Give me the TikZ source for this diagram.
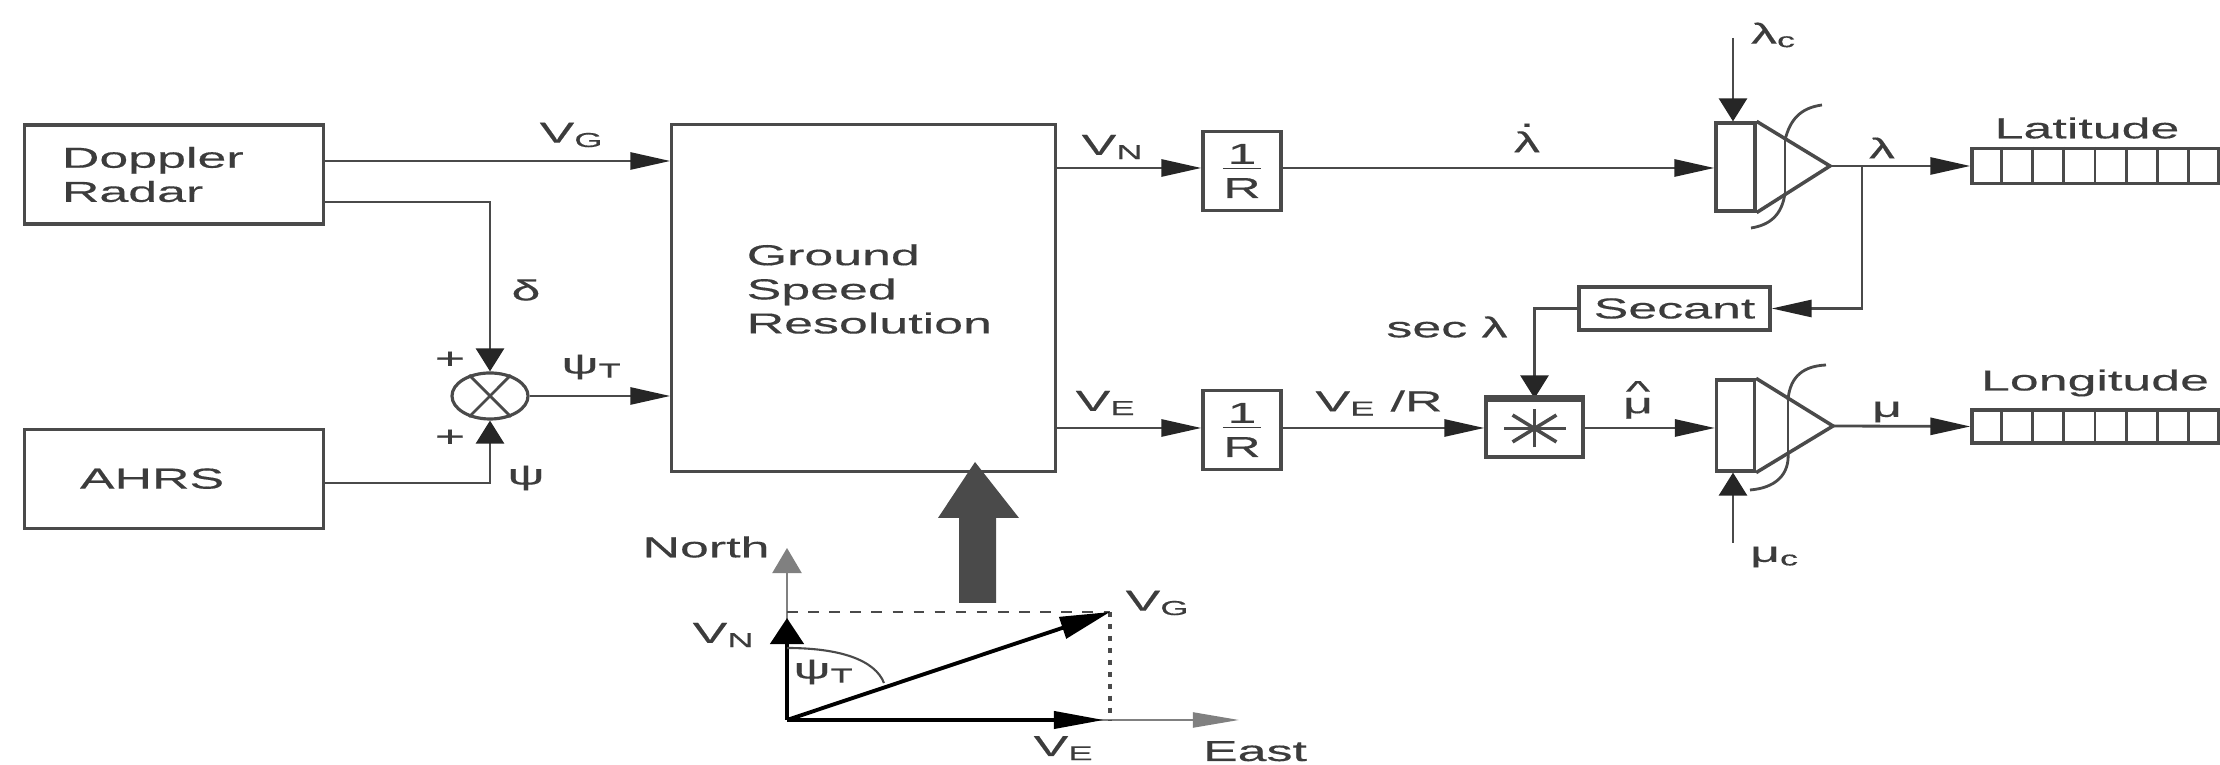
\documentclass[tikz,border=0pt]{standalone}
\usepackage{fontspec}
\setmainfont[FakeStretch=1.8,FakeBold=0.4]{Liberation Sans}
\usepackage{xcolor}
\usepackage{tikz}
\usetikzlibrary{shapes.geometric, arrows.meta, calc}
\definecolor{inkgray}{HTML}{4A4A4A}
\definecolor{textgray}{HTML}{3C3C3C}
\tikzstyle{block} = [rectangle, draw=inkgray, line width=0.9pt, inner sep=0pt, text=textgray, font=\fontsize{8.2}{9.7}\selectfont]
\tikzstyle{lbl} = [inner sep=0pt, text=textgray, font=\fontsize{8.2}{9.7}\selectfont]
\tikzstyle{conn} = [draw=inkgray, line width=0.8pt]
\tikzstyle{arrow} = [conn, -{Triangle[length=0.4cm, width=0.17cm, color=black!85]}]
\tikzstyle{arrowv} = [conn, -{Triangle[length=0.23cm, width=0.28cm, color=black!85]}]
\begin{document}
\begin{tikzpicture}[x=0.01cm, y=-0.01cm]
        \useasboundingbox (0,0) rectangle (2220,765);
        % left side
        \node (doppler) [block, minimum height=0.99cm, inner xsep=0.37cm, text width=2.24cm, align=left] at (174,174.5) {Doppler\\Radar};
        \node (ahrs) [block, below of=doppler, node distance=3.04cm, minimum height=0.99cm, inner xsep=0.55cm, text width=1.88cm, align=left] {AHRS};
        \node (sumpt) [ellipse, draw=inkgray, line width=0.9pt, inner sep=0pt, minimum width=0.76cm, minimum height=0.46cm] at (490,396) {};
        \node (main) [block, minimum width=3.83cm, minimum height=3.46cm] at (863.5,298) {};
        \node (maintxt) [lbl, anchor=west, align=left] at (746,289) {Ground\\Speed\\Resolution};
        \draw [conn] (sumpt.45) -- (sumpt.225);
        \draw [conn] (sumpt.135) -- (sumpt.-45);

        % levels where the lines leave the boxes
        \coordinate (vglevel) at (0,161);
        \coordinate (dltlevel) at (0,202);
        \coordinate (ahrslevel) at (0,483);
        \coordinate (vnlevel) at (0,168);
        \coordinate (velevel) at (0,428);
        \coordinate (dltcorner) at (sumpt.north |- dltlevel);
        \coordinate (ahrscorner) at (sumpt.south |- ahrslevel);

        \draw [arrow] (doppler.east |- vglevel) -- (main.west |- vglevel);
        \draw [arrowv] (doppler.east |- dltlevel) -- (dltcorner) -- (sumpt.north);
        \draw [arrowv] (ahrs.east |- ahrslevel) -- (ahrscorner) -- (sumpt.south);
        \draw [arrow] (sumpt.east) -- (main.west |- sumpt.east);

        \node (vglbl) [lbl] at (572,135) {V\textsubscript{G}};
        \node (dltlbl) [lbl] at (526,290) {δ};
        \node (psilbl) [lbl] at (526,478) {ψ};
        \node (psitlbl) [lbl] at (592,367) {ψ\textsubscript{T}};
        \node (plusa) [lbl] at (450,360) {+};
        \node (plusb) [lbl] at (450,438) {+};

        % upper channel
        \node (overn) [block, minimum width=0.78cm, minimum height=0.79cm, align=center] at (1242,171) {\underline{\,1\,}\\R};
        \node (intlat) [rectangle, draw=inkgray, line width=0.9pt, minimum width=0.39cm, minimum height=0.88cm, inner sep=0pt] at (1735.5,167) {};
        \node (latreg) [rectangle, draw=inkgray, line width=0.9pt, minimum width=2.46cm, minimum height=0.35cm, inner sep=0pt] at (2095,166) {};
        \coordinate (lattip) at (1830,166);
        \coordinate (latbranch) at (1862,166);
        \coordinate (latinit) at (1733,38);
        \draw [conn, line width=1pt] (intlat.north east) -- (lattip) -- (intlat.south east);
        \draw [conn] (1785,140) -- (1785,193);
        \draw [conn] (1822,105) .. controls (1800,108) and (1790,120) .. (1785,140);
        \draw [conn] (1785,193) .. controls (1782,215) and (1770,225) .. (1751,228);
        \draw [arrow] (main.east |- vnlevel) -- (overn.west |- vnlevel);
        \draw [arrow] (overn.east |- vnlevel) -- (intlat.west |- vnlevel);
        \draw [arrow] (lattip) -- (latreg.west);
        \draw [arrowv] (latinit) -- (latinit |- intlat.north);

        \node (vnlbl) [lbl] at (1113,147) {V\textsubscript{N}};
        \node (ldotlbl) [lbl] at (1527,138) {\ooalign{\hfil\raisebox{0.88em}{.}\hfil\cr λ\cr}};
        \node (lclbl) [lbl] at (1774,35) {λ\textsubscript{c}};
        \node (llbl) [lbl] at (1882,148) {λ};
        \node (latlbl) [lbl] at (2087,128) {Latitude};

        % secant feedback
        \node (secant) [block, minimum width=1.91cm, minimum height=0.43cm] at (1674.5,308.5) {Secant};
        \node (starbox) [rectangle, draw=inkgray, line width=0.9pt, minimum width=0.97cm, minimum height=0.57cm, inner sep=0pt] at (1534.5,428.5) {};
        \draw [arrow] (latbranch) |- (secant.east);
        \draw [arrowv] (secant.west) -| (starbox.north);
        \draw [draw=inkgray, line width=1.8pt] (starbox.north west) -- (starbox.north east);
        \foreach \a in {0,45,90,135}
            \draw [conn, line width=1pt] ([shift={(\a:31 and 19)}]starbox.center) -- ([shift={(\a+180:31 and 19)}]starbox.center);
        \node (seclbl) [lbl] at (1447,327) {sec λ};

        % lower channel
        \node (overe) [block, minimum width=0.78cm, minimum height=0.79cm, align=center] at (1242,430) {\underline{\,1\,}\\R};
        \node (intlon) [rectangle, draw=inkgray, line width=0.9pt, minimum width=0.38cm, minimum height=0.91cm, inner sep=0pt] at (1735.5,425.5) {};
        \node (lonreg) [rectangle, draw=inkgray, line width=0.9pt, minimum width=2.46cm, minimum height=0.33cm, inner sep=0pt] at (2095,426.5) {};
        \coordinate (lontip) at (1833,426);
        \coordinate (loninit) at (1733,543);
        \draw [conn, line width=1pt] (intlon.north east) -- (lontip) -- (intlon.south east);
        \draw [conn] (1788,400) -- (1788,452);
        \draw [conn] (1826,365) .. controls (1805,366) and (1790,375) .. (1788,400);
        \draw [conn] (1788,452) .. controls (1790,475) and (1775,488) .. (1750,490);
        \draw [arrow] (main.east |- velevel) -- (overe.west |- velevel);
        \draw [arrow] (overe.east |- velevel) -- (starbox.west |- velevel);
        \draw [arrow] (starbox.east |- velevel) -- (intlon.west |- velevel);
        \draw [arrow] (lontip) -- (lonreg.west);
        \draw [arrowv] (loninit) -- (loninit |- intlon.south);

        \node (velbl) [lbl] at (1106,403) {V\textsubscript{E}};
        \node (verlbl) [lbl] at (1379,403) {V\textsubscript{E} /R};
        \node (mhatlbl) [lbl] at (1638,400) {\ooalign{\hfil\raisebox{0.42em}{\char"5E}\hfil\cr μ\cr}};
        \node (mulbl) [lbl] at (1887,412) {μ};
        \node (mclbl) [lbl] at (1775,557) {μ\textsubscript{c}};
        \node (lonlbl) [lbl] at (2095,383) {Longitude};

        % register cells
        \foreach \r in {latreg,lonreg}
            \foreach \i in {1,...,7}
                \draw [conn] ($(\r.north west)!\i/8!(\r.north east)$) -- ($(\r.south west)!\i/8!(\r.south east)$);

        % big arrow into the resolution box
        \fill [fill=inkgray] (959,603) -- (959,518) -- (938,518) -- (975,462) -- (1019,518) -- (996,518) -- (996,603) -- cycle;

        % vector triangle
        \coordinate (origin) at (787,720);
        \coordinate (northend) at (787,548);
        \coordinate (eastend) at (1239,720);
        \coordinate (vntip) at (787,618);
        \coordinate (vetip) at (1104,720);
        \coordinate (vgtip) at (1110,612);
        \draw [draw=gray, line width=0.6pt, -{Triangle[length=0.25cm, width=0.29cm]}] (origin) -- (northend);
        \draw [draw=gray, line width=0.6pt, -{Triangle[length=0.46cm, width=0.15cm]}] (origin) -- (eastend);
        \draw [draw=inkgray, line width=0.8pt, dashed] (vntip |- vgtip) -- (vgtip);
        \draw [draw=inkgray, line width=1.4pt, dotted] (vgtip) -- (vgtip |- origin);
        \draw [line width=1.3pt, -{Triangle[length=0.26cm, width=0.33cm]}] (origin) -- (vntip);
        \draw [line width=1.1pt, -{Triangle[length=0.5cm, width=0.17cm]}] (origin) -- (vetip);
        \draw [line width=1.1pt, -{Triangle[length=0.5cm, width=0.22cm]}] (origin) -- (vgtip);
        \draw [draw=inkgray, line width=0.6pt] (787,648) .. controls (840,648) and (875,660) .. (884,683);
        \node (northlbl) [lbl] at (706,547) {North};
        \node (eastlbl) [lbl, anchor=base] at (1255,761) {East};
        \node (vnvec) [lbl] at (724,635) {V\textsubscript{N}};
        \node (vevec) [lbl, anchor=base] at (1064,756) {V\textsubscript{E}};
        \node (vgvec) [lbl] at (1158,603) {V\textsubscript{G}};
        \node (psivec) [lbl] at (824,672) {ψ\textsubscript{T}};
    \end{tikzpicture}
\end{document}
